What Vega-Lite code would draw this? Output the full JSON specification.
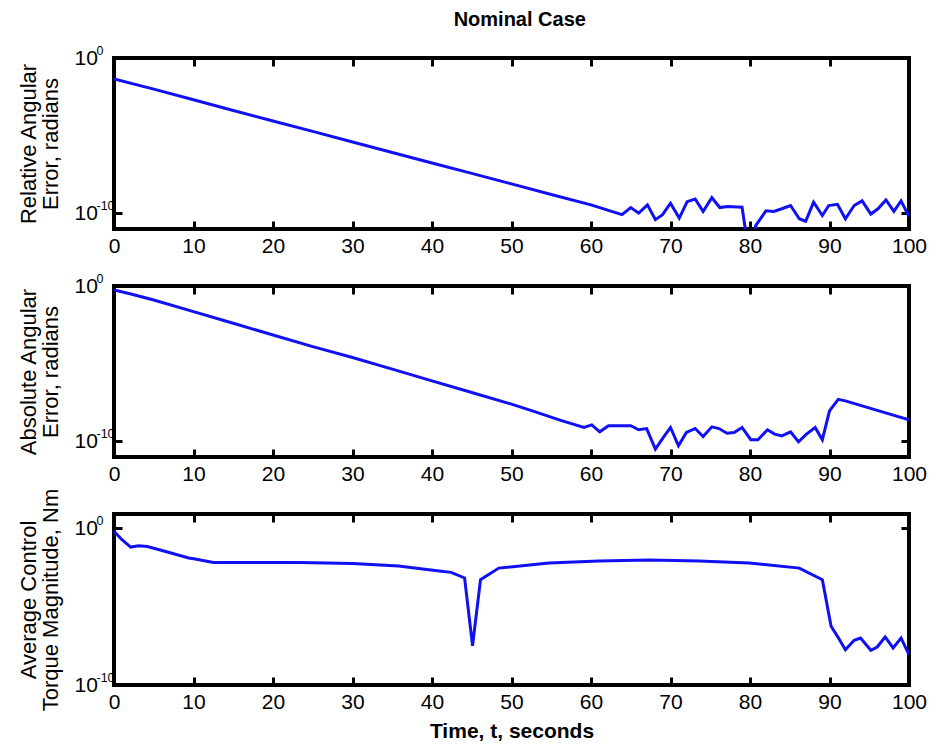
{
  "$schema": "https://vega.github.io/schema/vega-lite/v6.json",
  "background": "white",
  "padding": {"left": 15, "top": 10, "right": 5, "bottom": 5},
  "title": {"text": "Nominal Case", "fontSize": 20, "fontWeight": "bold", "font": "Liberation Sans", "color": "black", "anchor": "middle", "offset": 12, "dx": 48},
  "datasets": {
    "p1": [
      {"t": 0, "v": 0.0457}, {"t": 5, "v": 0.01}, {"t": 10, "v": 2.04e-3}, {"t": 15, "v": 4.17e-4},
      {"t": 20, "v": 8.91e-5}, {"t": 25, "v": 1.91e-5}, {"t": 30, "v": 3.98e-6}, {"t": 35, "v": 8.32e-7},
      {"t": 40, "v": 1.78e-7}, {"t": 45, "v": 3.8e-8}, {"t": 50, "v": 7.94e-9}, {"t": 55, "v": 1.66e-9},
      {"t": 60, "v": 3.55e-10}, {"t": 63.9, "v": 8.32e-11}, {"t": 65, "v": 2.4e-10}, {"t": 66, "v": 1.05e-10},
      {"t": 67.1, "v": 3.55e-10}, {"t": 68.1, "v": 3.98e-11}, {"t": 69, "v": 8.32e-11}, {"t": 70, "v": 4.57e-10},
      {"t": 71.1, "v": 5.01e-11}, {"t": 72.1, "v": 5.75e-10}, {"t": 73.1, "v": 8.51e-10}, {"t": 74.1, "v": 1.35e-10},
      {"t": 75.2, "v": 1.05e-9}, {"t": 76.2, "v": 2.4e-10}, {"t": 77.2, "v": 2.82e-10}, {"t": 79, "v": 2.51e-10},
      {"t": 80, "v": 1e-13}, {"t": 80.7, "v": 1.58e-11}, {"t": 82, "v": 1.48e-10}, {"t": 83, "v": 1.35e-10},
      {"t": 84, "v": 2.0e-10}, {"t": 85.1, "v": 3.24e-10}, {"t": 86.2, "v": 4.57e-11}, {"t": 87, "v": 3.16e-11},
      {"t": 88, "v": 5.25e-10}, {"t": 89.1, "v": 7.41e-11}, {"t": 89.9, "v": 3.24e-10}, {"t": 91, "v": 3.89e-10},
      {"t": 92, "v": 4.57e-11}, {"t": 93.1, "v": 3.24e-10}, {"t": 94.1, "v": 6.46e-10}, {"t": 95.2, "v": 9.12e-11},
      {"t": 96.1, "v": 2.0e-10}, {"t": 97.1, "v": 7.41e-10}, {"t": 98.1, "v": 1.35e-10}, {"t": 99, "v": 6.46e-10},
      {"t": 100, "v": 6.31e-11}
    ],
    "p2": [
      {"t": 0, "v": 0.55}, {"t": 2, "v": 0.316}, {"t": 5, "v": 0.126}, {"t": 10, "v": 0.0224},
      {"t": 15, "v": 3.98e-3}, {"t": 20, "v": 7.08e-4}, {"t": 25, "v": 1.26e-4}, {"t": 30, "v": 2.51e-5},
      {"t": 35, "v": 4.47e-6}, {"t": 40, "v": 7.94e-7}, {"t": 45, "v": 1.41e-7}, {"t": 50, "v": 2.51e-8},
      {"t": 53, "v": 7.94e-9}, {"t": 56, "v": 2.45e-9}, {"t": 59.1, "v": 7.94e-10}, {"t": 60.1, "v": 1.17e-9},
      {"t": 61.1, "v": 4.17e-10}, {"t": 62.2, "v": 1.02e-9}, {"t": 65, "v": 1.02e-9}, {"t": 66, "v": 5.62e-10},
      {"t": 67, "v": 6.76e-10}, {"t": 68.1, "v": 3.24e-11}, {"t": 69.1, "v": 1.82e-10}, {"t": 70, "v": 7.94e-10},
      {"t": 71, "v": 5.25e-11}, {"t": 72, "v": 3.8e-10}, {"t": 73.1, "v": 6.76e-10}, {"t": 74.1, "v": 2.09e-10},
      {"t": 75.2, "v": 8.71e-10}, {"t": 76.1, "v": 6.76e-10}, {"t": 77.1, "v": 3.39e-10}, {"t": 78, "v": 3.8e-10},
      {"t": 79, "v": 7.94e-10}, {"t": 80.1, "v": 1.29e-10}, {"t": 81, "v": 1.29e-10}, {"t": 82.2, "v": 5.62e-10},
      {"t": 83.1, "v": 2.95e-10}, {"t": 84, "v": 2.29e-10}, {"t": 85.1, "v": 4.17e-10}, {"t": 86.1, "v": 9.55e-11},
      {"t": 87.1, "v": 2.95e-10}, {"t": 88.2, "v": 7.94e-10}, {"t": 89.1, "v": 1.29e-10}, {"t": 90, "v": 9.33e-9},
      {"t": 91.1, "v": 5.13e-8}, {"t": 92, "v": 4.07e-8}, {"t": 96, "v": 1.0e-8}, {"t": 100, "v": 2.45e-9}
    ],
    "p3": [
      {"t": 0, "v": 0.62}, {"t": 1, "v": 0.182}, {"t": 2.1, "v": 0.0617}, {"t": 3.1, "v": 0.0741},
      {"t": 4.2, "v": 0.0676}, {"t": 6.5, "v": 0.0324}, {"t": 9.4, "v": 0.0123}, {"t": 10.2, "v": 0.0107},
      {"t": 12.5, "v": 6.46e-3}, {"t": 23.3, "v": 6.46e-3}, {"t": 30, "v": 5.62e-3}, {"t": 35.8, "v": 3.8e-3},
      {"t": 40.9, "v": 1.82e-3}, {"t": 42.4, "v": 1.51e-3}, {"t": 44.1, "v": 6.61e-4}, {"t": 45.1, "v": 3.16e-8},
      {"t": 46.1, "v": 5.13e-4}, {"t": 48.4, "v": 2.82e-3}, {"t": 54.7, "v": 5.89e-3}, {"t": 61, "v": 7.94e-3},
      {"t": 67.3, "v": 9.12e-3}, {"t": 73.6, "v": 7.94e-3}, {"t": 79.9, "v": 5.89e-3}, {"t": 86.2, "v": 2.82e-3},
      {"t": 89.1, "v": 5.13e-4}, {"t": 90.2, "v": 5.5e-7}, {"t": 91, "v": 1.26e-7}, {"t": 92, "v": 1.78e-8},
      {"t": 93.1, "v": 7.08e-8}, {"t": 93.9, "v": 9.77e-8}, {"t": 95.2, "v": 1.62e-8}, {"t": 96, "v": 2.63e-8},
      {"t": 97, "v": 1.15e-7}, {"t": 98, "v": 2.29e-8}, {"t": 99, "v": 9.77e-8}, {"t": 100, "v": 8.51e-9}
    ]
  },
  "spacing": 57,
  "bounds": "flush",
  "vconcat": [
    {
      "width": 795, "height": 171,
      "data": {"name": "p1"},
      "layer": [
        {
          "mark": {"type": "line", "color": "#1010f2", "strokeWidth": 3, "clip": true},
          "encoding": {
            "x": {"field": "t", "type": "quantitative", "scale": {"domain": [0, 100], "nice": false},
                  "axis": {"orient": "bottom", "values": [0, 10, 20, 30, 40, 50, 60, 70, 80, 90, 100], "labelPadding": 14, "title": null}},
            "y": {"field": "v", "type": "quantitative", "scale": {"type": "log", "domain": [1e-11, 1], "nice": false},
                  "axis": {"orient": "left", "values": [1e-10, 1], "labelExpr": "'10'", "labelAlign": "left", "labelPadding": 48,
                           "title": ["Relative Angular", "Error, radians"]}}
          }
        },
        {
          "mark": {"type": "line", "opacity": 0, "clip": true},
          "encoding": {
            "x": {"field": "t", "type": "quantitative", "scale": {"domain": [0, 100], "nice": false},
                  "axis": {"orient": "top", "values": [0, 10, 20, 30, 40, 50, 60, 70, 80, 90, 100], "labels": false, "title": null}},
            "y": {"field": "v", "type": "quantitative", "scale": {"type": "log", "domain": [1e-11, 1], "nice": false},
                  "axis": {"orient": "right", "values": [1e-10, 1], "labels": false, "title": null}}
          }
        },
        {
          "mark": {"type": "line", "opacity": 0, "clip": true},
          "encoding": {
            "x": {"field": "t", "type": "quantitative", "scale": {"domain": [0, 100], "nice": false}, "axis": null},
            "y": {"field": "v", "type": "quantitative", "scale": {"type": "log", "domain": [1e-11, 1], "nice": false},
                  "axis": {"orient": "left", "values": [1e-10, 1], "labelExpr": "datum.value > 0.5 ? '0' : '-10'", "ticks": false,
                           "labelAlign": "left", "labelPadding": 18, "labelFontSize": 12.5, "labelOffset": -8, "title": null}}
          }
        }
      ],
      "resolve": {"axis": {"x": "independent", "y": "independent"}}
    },
    {
      "width": 795, "height": 171,
      "data": {"name": "p2"},
      "layer": [
        {
          "mark": {"type": "line", "color": "#1010f2", "strokeWidth": 3, "clip": true},
          "encoding": {
            "x": {"field": "t", "type": "quantitative", "scale": {"domain": [0, 100], "nice": false},
                  "axis": {"orient": "bottom", "values": [0, 10, 20, 30, 40, 50, 60, 70, 80, 90, 100], "labelPadding": 14, "title": null}},
            "y": {"field": "v", "type": "quantitative", "scale": {"type": "log", "domain": [1e-11, 1], "nice": false},
                  "axis": {"orient": "left", "values": [1e-10, 1], "labelExpr": "'10'", "labelAlign": "left", "labelPadding": 48,
                           "title": ["Absolute Angular", "Error, radians"]}}
          }
        },
        {
          "mark": {"type": "line", "opacity": 0, "clip": true},
          "encoding": {
            "x": {"field": "t", "type": "quantitative", "scale": {"domain": [0, 100], "nice": false},
                  "axis": {"orient": "top", "values": [0, 10, 20, 30, 40, 50, 60, 70, 80, 90, 100], "labels": false, "title": null}},
            "y": {"field": "v", "type": "quantitative", "scale": {"type": "log", "domain": [1e-11, 1], "nice": false},
                  "axis": {"orient": "right", "values": [1e-10, 1], "labels": false, "title": null}}
          }
        },
        {
          "mark": {"type": "line", "opacity": 0, "clip": true},
          "encoding": {
            "x": {"field": "t", "type": "quantitative", "scale": {"domain": [0, 100], "nice": false}, "axis": null},
            "y": {"field": "v", "type": "quantitative", "scale": {"type": "log", "domain": [1e-11, 1], "nice": false},
                  "axis": {"orient": "left", "values": [1e-10, 1], "labelExpr": "datum.value > 0.5 ? '0' : '-10'", "ticks": false,
                           "labelAlign": "left", "labelPadding": 18, "labelFontSize": 12.5, "labelOffset": -8, "title": null}}
          }
        }
      ],
      "resolve": {"axis": {"x": "independent", "y": "independent"}}
    },
    {
      "width": 795, "height": 171,
      "data": {"name": "p3"},
      "layer": [
        {
          "mark": {"type": "line", "color": "#1010f2", "strokeWidth": 3, "clip": true},
          "encoding": {
            "x": {"field": "t", "type": "quantitative", "scale": {"domain": [0, 100], "nice": false},
                  "axis": {"orient": "bottom", "values": [0, 10, 20, 30, 40, 50, 60, 70, 80, 90, 100], "labelPadding": 14,
                           "title": "Time, t, seconds", "titleFontSize": 21, "titleFontWeight": "bold", "titlePadding": 8}},
            "y": {"field": "v", "type": "quantitative", "scale": {"type": "log", "domain": [1e-10, 7.9], "nice": false},
                  "axis": {"orient": "left", "values": [1e-10, 1], "labelExpr": "'10'", "labelAlign": "left", "labelPadding": 48,
                           "title": ["Average Control", "Torque Magnitude, Nm"]}}
          }
        },
        {
          "mark": {"type": "line", "opacity": 0, "clip": true},
          "encoding": {
            "x": {"field": "t", "type": "quantitative", "scale": {"domain": [0, 100], "nice": false},
                  "axis": {"orient": "top", "values": [0, 10, 20, 30, 40, 50, 60, 70, 80, 90, 100], "labels": false, "title": null}},
            "y": {"field": "v", "type": "quantitative", "scale": {"type": "log", "domain": [1e-10, 7.9], "nice": false},
                  "axis": {"orient": "right", "values": [1e-10, 1], "labels": false, "title": null}}
          }
        },
        {
          "mark": {"type": "line", "opacity": 0, "clip": true},
          "encoding": {
            "x": {"field": "t", "type": "quantitative", "scale": {"domain": [0, 100], "nice": false}, "axis": null},
            "y": {"field": "v", "type": "quantitative", "scale": {"type": "log", "domain": [1e-10, 7.9], "nice": false},
                  "axis": {"orient": "left", "values": [1e-10, 1], "labelExpr": "datum.value > 0.5 ? '0' : '-10'", "ticks": false,
                           "labelAlign": "left", "labelPadding": 18, "labelFontSize": 12.5, "labelOffset": -8, "title": null}}
          }
        }
      ],
      "resolve": {"axis": {"x": "independent", "y": "independent"}}
    }
  ],
  "config": {
    "font": "Liberation Sans",
    "view": {"stroke": "black", "strokeWidth": 4},
    "axis": {
      "grid": false, "domain": false,
      "ticks": true, "tickColor": "black", "tickWidth": 3, "tickSize": -8,
      "labelFont": "Liberation Sans", "labelFontSize": 21, "labelColor": "black", "labelFlush": false,
      "titleFont": "Liberation Sans", "titleColor": "black", "titleFontSize": 22, "titleFontWeight": "normal",
      "titlePadding": 12, "titleLineHeight": 22
    }
  }
}
